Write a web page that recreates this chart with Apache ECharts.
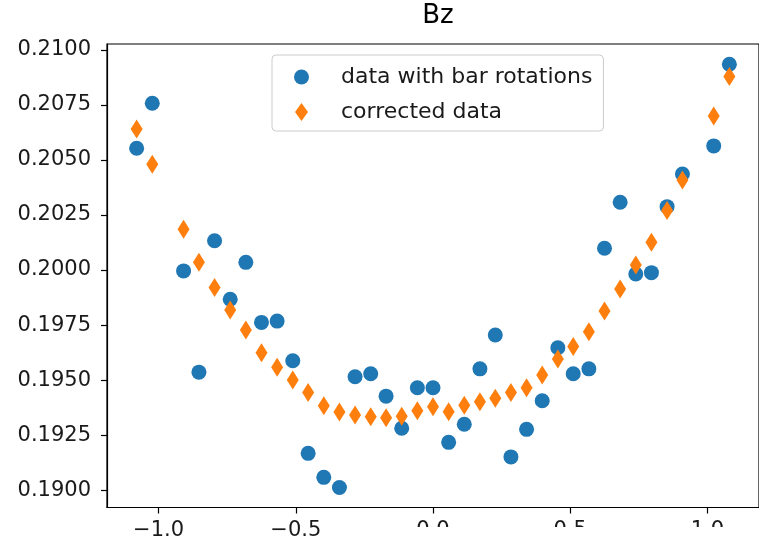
<!DOCTYPE html>
<html>
<head>
<meta charset="utf-8">
<script src="https://cdn.jsdelivr.net/npm/echarts@6/dist/echarts.min.js"></script>
<style>
    html, body { margin: 0; padding: 0; background: #fff; }
    #chart { width: 759px; height: 543px; }
</style>
</head>
<body>
<div id="chart"></div>
<script>
// bar positions (two positions are missing in the scan)
const xValues = [-1.080, -1.023, -0.909, -0.853, -0.796, -0.739, -0.682, -0.625, -0.568, -0.511,
    -0.455, -0.398, -0.341, -0.284, -0.227, -0.171, -0.114, -0.057, 0.000, 0.057,
    0.114, 0.171, 0.227, 0.284, 0.341, 0.398, 0.455, 0.511, 0.568, 0.625,
    0.682, 0.739, 0.796, 0.853, 0.909, 1.023, 1.080];

// Bz with bar rotations
const rawBz = [0.20553, 0.20758, 0.19996, 0.19536, 0.20133, 0.19867, 0.20035, 0.19762, 0.19768, 0.19588,
    0.19167, 0.19058, 0.19012, 0.19515, 0.19529, 0.19427, 0.19281, 0.19465, 0.19465, 0.19217,
    0.19299, 0.19551, 0.19705, 0.19151, 0.19276, 0.19406, 0.19647, 0.19529, 0.19551, 0.20099,
    0.20308, 0.19982, 0.19988, 0.20288, 0.20436, 0.20564, 0.20935];

// corrected Bz
const correctedBz = [0.20641, 0.20481, 0.20185, 0.20035, 0.19921, 0.19818, 0.19727, 0.19624, 0.19558, 0.19500,
    0.19444, 0.19383, 0.19355, 0.19341, 0.19333, 0.19329, 0.19336, 0.19361, 0.19379, 0.19356,
    0.19386, 0.19401, 0.19417, 0.19444, 0.19465, 0.19523, 0.19596, 0.19653, 0.19720, 0.19814,
    0.19914, 0.20023, 0.20126, 0.20270, 0.20409, 0.20700, 0.20879];

const xTicks = [-1.0, -0.5, 0.0, 0.5, 1.0];
const yTicks = [0.1900, 0.1925, 0.1950, 0.1975, 0.2000, 0.2025, 0.2050, 0.2075, 0.2100];

const seriesNames = ['data with bar rotations', 'corrected data'];

const FONT = 'DejaVu Sans';
const diamondPath = 'path://M0,-9L6.5,0L0,9L-6.5,0Z';

function fmtX(v) {
    // matplotlib uses a real minus sign
    return v < 0 ? '\u2212' + Math.abs(v).toFixed(1) : v.toFixed(1);
}

const myChart = echarts.init(document.getElementById('chart'), null, {renderer: 'canvas'});

myChart.setOption({
    backgroundColor: '#fff',
    animation: false,
    title: {
        text: 'Bz',
        left: 438,
        top: 3,
        textAlign: 'center',
        padding: 0,
        textStyle: {fontFamily: FONT, fontSize: 26, fontWeight: 'normal', color: '#000'}
    },
    grid: {
        left: 107,
        top: 44,
        width: 658,
        height: 463.5,
        show: true,
        borderColor: '#000',
        borderWidth: 1.2,
        backgroundColor: 'transparent'
    },
    legend: {
        orient: 'vertical',
        left: 272,
        top: 55,
        padding: [11, 11, 8, 22],
        itemWidth: 15,
        itemHeight: 18,
        itemGap: 13,
        selectedMode: false,
        symbolKeepAspect: true,
        backgroundColor: 'rgba(255,255,255,0.8)',
        borderColor: '#cccccc',
        borderWidth: 1,
        borderRadius: 4,
        textStyle: {fontFamily: FONT, fontSize: 22, color: '#1a1a1a', lineHeight: 18, padding: [0, 0, 0, 27]},
        data: [
            {name: seriesNames[0], icon: 'circle'},
            {name: seriesNames[1], icon: diamondPath}
        ]
    },
    xAxis: {
        type: 'value',
        min: -1.188,
        max: 1.188,
        axisLine: {show: true, onZero: false, lineStyle: {color: '#000', width: 1.2}},
        axisTick: {show: true, length: 6, customValues: xTicks, lineStyle: {color: '#000', width: 1.2}},
        axisLabel: {
            customValues: xTicks,
            margin: 13,
            fontFamily: FONT,
            fontSize: 21,
            color: '#1a1a1a',
            formatter: fmtX
        },
        splitLine: {show: false}
    },
    yAxis: {
        type: 'value',
        min: 0.18921,
        max: 0.21027,
        axisLine: {show: true, onZero: false, lineStyle: {color: '#000', width: 1.2}},
        axisTick: {show: true, length: 6, customValues: yTicks, lineStyle: {color: '#000', width: 1.2}},
        axisLabel: {
            customValues: yTicks,
            margin: 16,
            fontFamily: FONT,
            fontSize: 21,
            color: '#1a1a1a',
            formatter: function (v) { return v.toFixed(4); }
        },
        splitLine: {show: false}
    },
    series: [
        {
            name: seriesNames[0],
            type: 'scatter',
            symbol: 'circle',
            symbolSize: 15,
            itemStyle: {color: '#1f77b4', opacity: 1},
            data: xValues.map(function (x, i) { return [x, rawBz[i]]; })
        },
        {
            name: seriesNames[1],
            type: 'scatter',
            symbol: 'diamond',
            symbolSize: [12, 19],
            itemStyle: {color: '#ff7f0e', opacity: 1},
            data: xValues.map(function (x, i) { return [x, correctedBz[i]]; })
        }
    ],
    // the source picture is cut off below the right-hand x labels
    graphic: [{
        type: 'rect',
        left: 380,
        top: 527,
        shape: {width: 379, height: 16},
        style: {fill: '#fff'},
        z: 100
    }]
});
</script>
</body>
</html>
